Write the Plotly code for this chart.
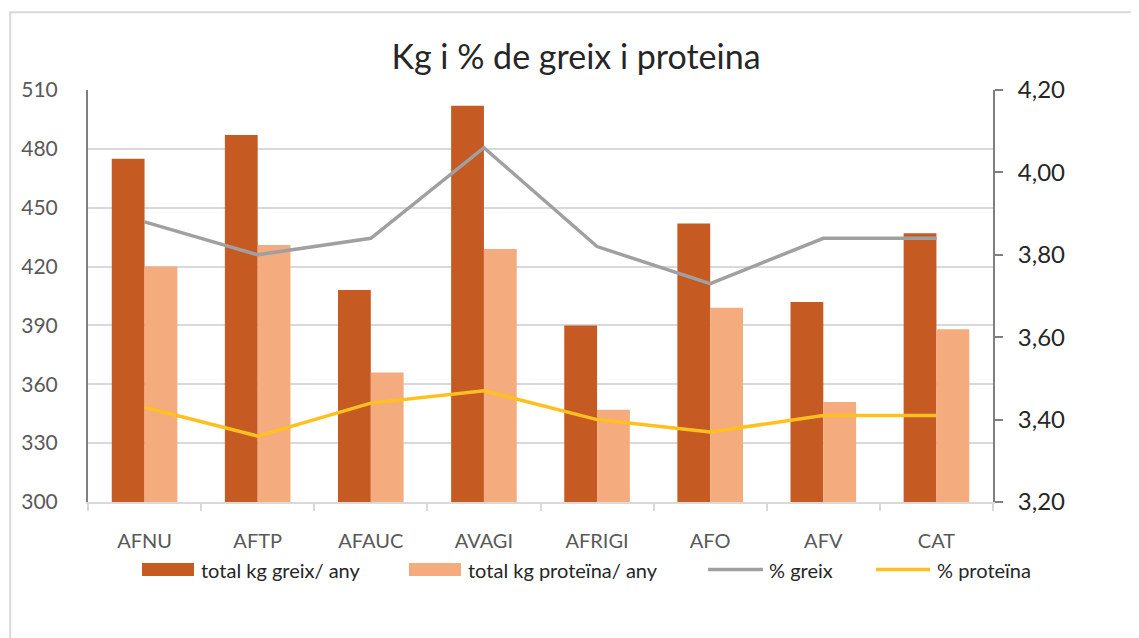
import plotly.graph_objects as go

categories = ["AFNU", "AFTP", "AFAUC", "AVAGI", "AFRIGI", "AFO", "AFV", "CAT"]
kg_greix = [475, 487, 408, 502, 390, 442, 402, 437]
kg_proteina = [420, 431, 366, 429, 347, 399, 351, 388]
pct_greix = [3.88, 3.80, 3.84, 4.06, 3.82, 3.73, 3.84, 3.84]
pct_proteina = [3.43, 3.36, 3.44, 3.47, 3.40, 3.37, 3.41, 3.41]

font_fam = "Lato, 'Open Sans', sans-serif"
c_greix, c_prot = "#C55A22", "#F4AC7E"
c_lgreix, c_lprot = "#A0A0A0", "#FFC020"

fig = go.Figure()
fig.add_trace(go.Bar(x=categories, y=kg_greix, name="total kg greix/ any",
                     marker=dict(color=c_greix, line_width=0)))
fig.add_trace(go.Bar(x=categories, y=kg_proteina, name="total kg proteïna/ any",
                     marker=dict(color=c_prot, line_width=0)))
fig.add_trace(go.Scatter(x=categories, y=pct_greix, name="% greix", mode="lines",
                         line=dict(color=c_lgreix, width=3.5), yaxis="y2"))
fig.add_trace(go.Scatter(x=categories, y=pct_proteina, name="% proteïna", mode="lines",
                         line=dict(color=c_lprot, width=3.5), yaxis="y2"))

# marc del gràfic (estil Excel)
fig.add_shape(type="rect", xref="paper", yref="paper", x0=-0.086, x1=1.3, y0=-0.6, y1=1.189,
              line=dict(color="#D9D9D9", width=2), layer="below")

# llegenda feta a mà (mostres amples com a Excel)
def px_x(p):
    return (p - 88) / 905

def px_y(p):
    return (502 - p) / 412

leg = [("rect", c_greix, 142, 194, "total kg greix/ any", 199),
       ("rect", c_prot, 409, 461, "total kg proteïna/ any", 466),
       ("line", c_lgreix, 708, 763, "% greix", 767),
       ("line", c_lprot, 876, 930, "% proteïna", 935)]
for kind, col, a, b, txt, tx in leg:
    if kind == "rect":
        fig.add_shape(type="rect", xref="paper", yref="paper", x0=px_x(a), x1=px_x(b),
                      y0=px_y(576), y1=px_y(563), fillcolor=col, line_width=0)
    else:
        fig.add_shape(type="line", xref="paper", yref="paper", x0=px_x(a), x1=px_x(b),
                      y0=px_y(569.5), y1=px_y(569.5), line=dict(color=col, width=3.5))
    fig.add_annotation(text=txt, xref="paper", yref="paper", x=px_x(tx), y=px_y(570),
                       xanchor="left", yanchor="middle", showarrow=False,
                       font=dict(size=20, color="#262626", family=font_fam))

fig.update_layout(
    width=1131, height=630,
    margin=dict(l=80, r=146, t=82, b=136),
    paper_bgcolor="white", plot_bgcolor="white",
    separators=",.",
    barmode="group", bargap=0.42, bargroupgap=0,
    showlegend=False,
    font=dict(family=font_fam, color="#595959"),
    title=dict(text="Kg i % de greix i proteina", x=px_x(576), xref="paper", xanchor="center",
               y=1 - 49 / 630, yref="container", yanchor="middle",
               font=dict(size=34, color="#262626", family=font_fam)),
    xaxis=dict(showline=True, linecolor="#D9D9D9", linewidth=2, ticks="outside",
               tickson="boundaries", ticklen=7, tickcolor="#D9D9D9", tickwidth=2,
               tickfont=dict(size=20, color="#595959"), ticklabelstandoff=20,
               showgrid=False),
    yaxis=dict(range=[300, 510], tickvals=[300, 330, 360, 390, 420, 450, 480, 510],
               showline=True, linecolor="#7F7F7F", linewidth=2,
               showgrid=True, gridcolor="#D9D9D9", gridwidth=2,
               tickfont=dict(size=21, color="#595959"), ticklabelstandoff=24,
               zeroline=False),
    yaxis2=dict(overlaying="y", side="right", range=[3.2, 4.2],
                tickvals=[3.2, 3.4, 3.6, 3.8, 4.0, 4.2], tickformat=".2f",
                showline=True, linecolor="#7F7F7F", linewidth=2,
                ticks="outside", ticklen=8, tickcolor="#7F7F7F", tickwidth=2,
                showgrid=False, zeroline=False,
                tickfont=dict(size=24, color="#262626"), ticklabelstandoff=10),
)

fig.write_html("out.html")
